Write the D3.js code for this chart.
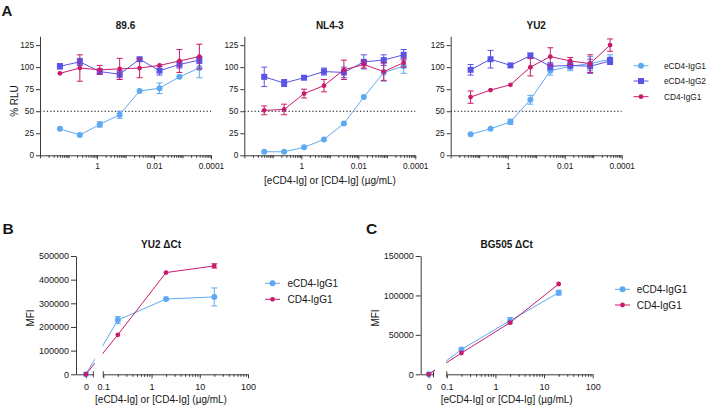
<!DOCTYPE html>
<html><head><meta charset="utf-8">
<script src="https://cdn.jsdelivr.net/npm/d3@7/dist/d3.min.js"></script>
<style>body{margin:0;background:#fff}</style>
</head><body>
<svg id="c" width="716" height="406"></svg>
<script>
// ---------------- DATA ----------------
const seriesA = ["eCD4-IgG1", "eCD4-IgG2", "CD4-IgG1"];
const seriesBC = ["eCD4-IgG1", "CD4-IgG1"];
const virusesA = ["89.6", "NL4-3", "YU2"];
const concA = [20, 4, 0.8, 0.16, 0.032, 0.0064, 0.00128, 0.000256];
const yTicksA = [0, 25, 50, 75, 100, 125];
const xLabelTicksA = [1, 0.01, 0.0001];

// 89.6
const v896_eIgG1 = [30, 23, 35, 46, 73, 76, 89, 99];
const v896_eIgG1_sd = [1, 1, 3, 4, 2, 6, 1, 11];
const v896_eIgG2 = [101, 106, 95, 92, 109, 96, 103, 108];
const v896_eIgG2_sd = [3, 4, 3, 4, 2, 5, 4, 4];
const v896_IgG1 = [93, 99, 97, 98, 99, 102, 107, 112];
const v896_IgG1_sd = [2, 15, 5, 12, 11, 1, 13, 14];
// NL4-3
const nl43_eIgG1 = [4, 4, 9, 18, 36, 66, 94, 101];
const nl43_eIgG1_sd = [1, 1, 1, 1, 1, 1, 10, 8];
const nl43_eIgG2 = [89, 82, 88, 95, 94, 106, 108, 114];
const nl43_eIgG2_sd = [11, 4, 2, 4, 6, 8, 6, 6];
const nl43_IgG1 = [51, 52, 70, 79, 97, 103, 95, 105];
const nl43_IgG1_sd = [5, 6, 5, 7, 11, 4, 10, 5];
// YU2
const yu2_eIgG1 = [24, 30, 38, 63, 96, 101, 104, 109];
const yu2_eIgG1_sd = [1, 1, 3, 5, 5, 5, 8, 5];
const yu2_eIgG2 = [97, 109, 102, 113, 101, 102, 101, 107];
const yu2_eIgG2_sd = [6, 10, 2, 3, 4, 4, 8, 4];
const yu2_IgG1 = [66, 74, 80, 100, 112, 107, 104, 125];
const yu2_IgG1_sd = [7, 1, 2, 10, 10, 4, 10, 7];

// B / C
const concBC = [0, 0.2, 2, 20];
const xTicksBC = [0.1, 1, 10, 100];
const yTicksB = [0, 100000, 200000, 300000, 400000, 500000];
const yTicksC = [0, 50000, 100000, 150000];
const b_eIgG1 = [0, 229000, 318000, 327000];
const b_eIgG1_sd = [3000, 15000, 6000, 38000];
const b_IgG1 = [0, 167000, 430000, 458000];
const b_IgG1_sd = [2000, 4000, 4000, 9000];
const c_eIgG1 = [0, 31500, 68000, 103500];
const c_eIgG1_sd = [1000, 2000, 4000, 3000];
const c_IgG1 = [0, 27000, 65500, 114500];
const c_IgG1_sd = [1000, 1500, 2000, 2000];

// ---------------- STYLE ----------------
const FONT = "'Liberation Sans', Arial, Helvetica, sans-serif";
const INK = "#161616";
const AX = "#3a3a3a";
const COLORS = {"eCD4-IgG1": "#5ea9f1", "eCD4-IgG2": "#5a54e6", "CD4-IgG1": "#c81b6c"};
const SHAPES = {"eCD4-IgG1": "circle", "eCD4-IgG2": "square", "CD4-IgG1": "dot"};

const svg = d3.select("#c");
svg.append("rect").attr("width", 716).attr("height", 406).attr("fill", "#fff");

function styleAxis(g, fs) {
  g.attr("font-family", FONT).attr("font-size", fs);
  g.selectAll("path.domain").attr("stroke", AX).attr("stroke-width", 1);
  g.selectAll(".tick line").attr("stroke", AX).attr("stroke-width", 1);
  g.selectAll(".tick text").attr("fill", INK);
}

function marker(g, name, cx, cy) {
  const col = COLORS[name], s = SHAPES[name];
  if (s === "square") {
    g.append("rect").attr("x", cx - 3).attr("y", cy - 3).attr("width", 6).attr("height", 6).attr("fill", col);
  } else {
    g.append("circle").attr("cx", cx).attr("cy", cy).attr("r", s === "dot" ? 2.4 : 3).attr("fill", col);
  }
}

function drawSeries(g, x, y, xs, means, sds, name, clip) {
  const col = COLORS[name];
  const data = xs.map((c, i) => ({c: c, v: means[i], e: sds[i]}));
  const line = d3.line().x(d => x(d.c)).y(d => y(d.v));
  const p = g.append("path").datum(data).attr("d", line).attr("fill", "none")
    .attr("stroke", col).attr("stroke-width", 1);
  if (clip) p.attr("clip-path", "url(#" + clip + ")");
  const eb = g.append("g").attr("stroke", col).attr("stroke-width", 1);
  data.forEach(d => {
    const xx = x(d.c), ya = y(d.v - d.e), yb = y(d.v + d.e);
    if (Math.abs(ya - yb) < 4) return;
    eb.append("line").attr("x1", xx).attr("x2", xx).attr("y1", ya).attr("y2", yb);
    eb.append("line").attr("x1", xx - 3).attr("x2", xx + 3).attr("y1", ya).attr("y2", ya);
    eb.append("line").attr("x1", xx - 3).attr("x2", xx + 3).attr("y1", yb).attr("y2", yb);
  });
  data.forEach(d => marker(g, name, x(d.c), y(d.v)));
}

function legend(g, names, x0, lineLen, textX, ys, fs) {
  names.forEach((n, i) => {
    g.append("line").attr("x1", x0).attr("x2", x0 + lineLen).attr("y1", ys[i]).attr("y2", ys[i])
      .attr("stroke", COLORS[n]).attr("stroke-width", 1);
    marker(g, n, x0 + lineLen / 2, ys[i]);
    g.append("text").attr("x", textX).attr("y", ys[i]).attr("dy", "0.35em")
      .attr("font-family", FONT).attr("font-size", fs).attr("fill", INK).text(n);
  });
}

// ---------------- PANEL A ----------------
const dataA = [
  [[v896_eIgG1, v896_eIgG1_sd], [v896_eIgG2, v896_eIgG2_sd], [v896_IgG1, v896_IgG1_sd]],
  [[nl43_eIgG1, nl43_eIgG1_sd], [nl43_eIgG2, nl43_eIgG2_sd], [nl43_IgG1, nl43_IgG1_sd]],
  [[yu2_eIgG1, yu2_eIgG1_sd], [yu2_eIgG2, yu2_eIgG2_sd], [yu2_IgG1, yu2_IgG1_sd]]
];
const leftsA = [40, 244.3, 450.7];
const W_A = 171;
const yA = d3.scaleLinear().domain([0, 135]).range([155.3, 36.3]);

const minorA = [];
for (let n = -4; n <= 1; n++) for (let m = 2; m <= 9; m++) minorA.push(Math.pow(10, n + 1) / m);
const midA = [100, 10, 0.1, 0.001];

virusesA.forEach((v, k) => {
  const L = leftsA[k];
  const x = d3.scaleLog().domain([100, 0.0001]).range([L, L + W_A]);
  const g = svg.append("g");
  g.append("line").attr("x1", L).attr("x2", L + W_A).attr("y1", yA(50)).attr("y2", yA(50))
    .attr("stroke", "#111").attr("stroke-width", 1.2).attr("stroke-dasharray", "1.3,2.1");
  const ya = g.append("g").attr("transform", `translate(${L},0)`)
    .call(d3.axisLeft(yA).tickValues(yTicksA).tickSize(4).tickSizeOuter(0).tickPadding(2));
  styleAxis(ya, 8.3);
  const xm = g.append("g").attr("transform", `translate(0,${yA(0)})`)
    .call(d3.axisBottom(x).tickValues(minorA).tickSize(2.5).tickSizeOuter(0).tickFormat(""));
  styleAxis(xm, 8.3);
  const xmid = g.append("g").attr("transform", `translate(0,${yA(0)})`)
    .call(d3.axisBottom(x).tickValues(midA).tickSize(3).tickSizeOuter(0).tickFormat(""));
  styleAxis(xmid, 8.3);
  xmid.select("path.domain").remove();
  const xa = g.append("g").attr("transform", `translate(0,${yA(0)})`)
    .call(d3.axisBottom(x).tickValues(xLabelTicksA).tickSize(4).tickSizeOuter(0).tickPadding(4)
      .tickFormat(d => String(d)));
  styleAxis(xa, 8.3);
  xa.select("path.domain").remove();
  g.append("text").attr("x", L + W_A / 2).attr("y", 28.5).attr("text-anchor", "middle")
    .attr("font-family", FONT).attr("font-size", 10).attr("font-weight", "bold").attr("fill", INK).text(v);
  seriesA.forEach((s, j) => drawSeries(g, x, yA, concA, dataA[k][j][0], dataA[k][j][1], s, null));
});

svg.append("text").attr("x", 1.5).attr("y", 15.5).attr("font-family", FONT).attr("font-size", 15)
  .attr("font-weight", "bold").attr("fill", INK).text("A");
svg.append("text").attr("transform", "translate(17.5,101) rotate(-90)").attr("text-anchor", "middle")
  .attr("font-family", FONT).attr("font-size", 10).attr("fill", INK).text("% RLU");
svg.append("text").attr("x", 330).attr("y", 184).attr("text-anchor", "middle")
  .attr("font-family", FONT).attr("font-size", 10).attr("fill", INK).text("[eCD4-Ig] or [CD4-Ig] (µg/mL)");
legend(svg.append("g"), seriesA, 633.5, 15, 664, [65.7, 81, 96.7], 8.3);

// ---------------- PANELS B, C ----------------
const minorBC = [];
for (let n = -1; n <= 1; n++) for (let m = 2; m <= 9; m++) minorBC.push(m * Math.pow(10, n));

function panelBC(cfg) {
  const g = svg.append("g");
  const x1 = d3.scaleLinear().domain([-1, cfg.seg1Max]).range([cfg.axisX, cfg.seg1End]);
  const x2 = d3.scaleLog().domain([0.1, 100]).range([cfg.seg2Start, cfg.seg2End]);
  const xpos = c => (c === 0 ? x1(0) : x2(c));
  const y = d3.scaleLinear().domain([0, cfg.yMax]).range([374.3, 256]);
  const y0 = y(0);

  const cp = svg.append("defs").append("clipPath").attr("id", cfg.id);
  cp.append("rect").attr("x", cfg.axisX - 20).attr("y", 200).attr("width", cfg.seg1End + 1.5 - (cfg.axisX - 20)).attr("height", 200);
  cp.append("rect").attr("x", cfg.seg2Start - 0.7).attr("y", 200).attr("width", 200).attr("height", 200);

  const ya = g.append("g").attr("transform", `translate(${cfg.axisX},0)`)
    .call(d3.axisLeft(y).tickValues(cfg.yTicks).tickSize(5).tickSizeOuter(0).tickPadding(2).tickFormat(d3.format("d")));
  styleAxis(ya, 9);

  const s1 = g.append("g").attr("transform", `translate(0,${y0})`)
    .call(d3.axisBottom(x1).tickValues([0]).tickSize(4).tickSizeOuter(0).tickPadding(5).tickFormat(() => "0"));
  styleAxis(s1, 9);
  const s2m = g.append("g").attr("transform", `translate(0,${y0})`)
    .call(d3.axisBottom(x2).tickValues(minorBC).tickSize(2.5).tickSizeOuter(0).tickFormat(""));
  styleAxis(s2m, 9);
  const s2 = g.append("g").attr("transform", `translate(0,${y0})`)
    .call(d3.axisBottom(x2).tickValues(xTicksBC).tickSize(4).tickSizeOuter(0).tickPadding(5).tickFormat(d => String(d)));
  styleAxis(s2, 9);
  s2.select("path.domain").remove();
  [x1.range()[1], x2.range()[0]].forEach(xx => {
    g.append("line").attr("x1", xx).attr("x2", xx).attr("y1", y0 - 3).attr("y2", y0 + 3)
      .attr("stroke", AX).attr("stroke-width", 1);
  });

  cfg.series.forEach(s => drawSeries(g, xpos, y, concBC, s.m, s.sd, s.name, cfg.id));

  g.append("text").attr("x", cfg.titleX).attr("y", 247.5).attr("text-anchor", "middle")
    .attr("font-family", FONT).attr("font-size", 10).attr("font-weight", "bold").attr("fill", INK).text(cfg.title);
  g.append("text").attr("transform", `translate(${cfg.mfiX},318) rotate(-90)`).attr("text-anchor", "middle")
    .attr("font-family", FONT).attr("font-size", 10).attr("fill", INK).text("MFI");
  g.append("text").attr("x", cfg.titleX).attr("y", 403).attr("text-anchor", "middle")
    .attr("font-family", FONT).attr("font-size", 10).attr("fill", INK).text("[eCD4-Ig] or [CD4-Ig] (µg/mL)");
  g.append("text").attr("x", cfg.letterX).attr("y", 233.5).attr("font-family", FONT).attr("font-size", 15.5)
    .attr("font-weight", "bold").attr("fill", INK).text(cfg.letter);
  legend(g, seriesBC, cfg.legX, 15, cfg.legTextX, cfg.legYs, 10);
}

panelBC({
  id: "clipB", letter: "B", letterX: 2.5, title: "YU2 ΔCt", titleX: 161, mfiX: 33.5,
  axisX: 76, seg1Max: 0.75, seg1End: 93.3, seg2Start: 103.3, seg2End: 248,
  yMax: 500000, yTicks: yTicksB,
  series: [{name: "eCD4-IgG1", m: b_eIgG1, sd: b_eIgG1_sd}, {name: "CD4-IgG1", m: b_IgG1, sd: b_IgG1_sd}],
  legX: 265, legTextX: 287.5, legYs: [283.3, 299.3]
});
panelBC({
  id: "clipC", letter: "C", letterX: 366, title: "BG505 ΔCt", titleX: 506.7, mfiX: 379,
  axisX: 420.7, seg1Max: 0.6, seg1End: 433.5, seg2Start: 446.8, seg2End: 592.7,
  yMax: 150000, yTicks: yTicksC,
  series: [{name: "eCD4-IgG1", m: c_eIgG1, sd: c_eIgG1_sd}, {name: "CD4-IgG1", m: c_IgG1, sd: c_IgG1_sd}],
  legX: 615, legTextX: 636.7, legYs: [289.3, 305]
});
</script>
</body></html>
